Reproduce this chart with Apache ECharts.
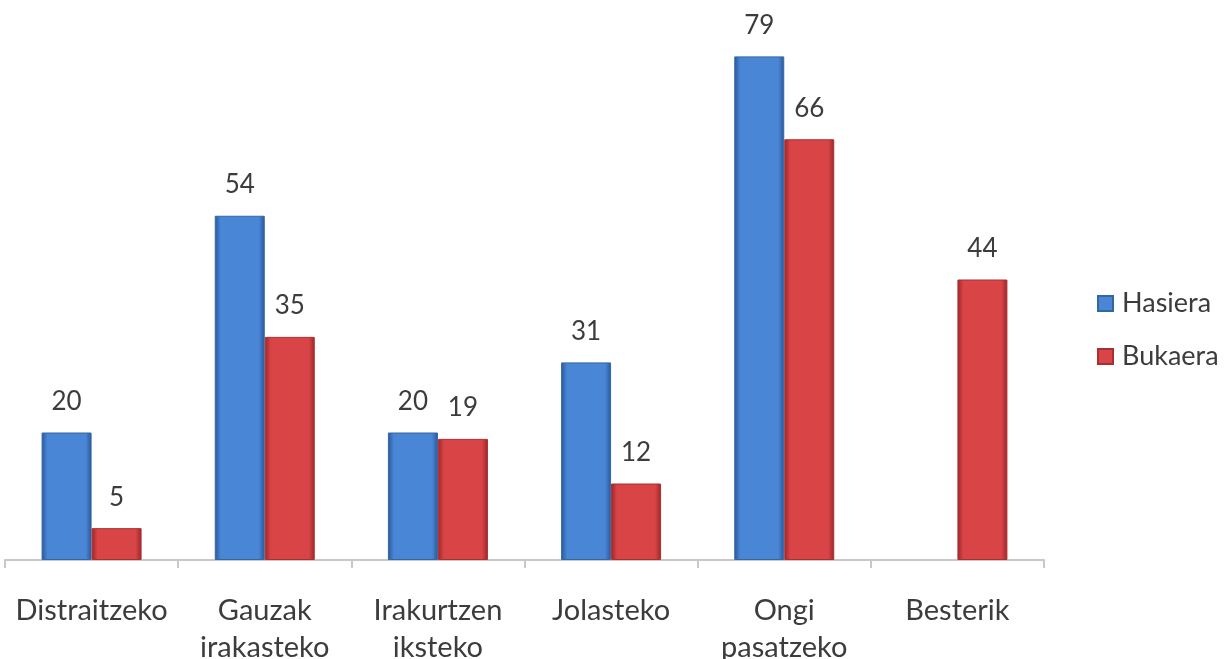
<!DOCTYPE html>
<html>
<head>
<meta charset="utf-8">
<script src="https://cdn.jsdelivr.net/npm/echarts@6/dist/echarts.min.js"></script>
<style>
html,body{margin:0;padding:0;background:#fff;}
#chart{width:1225px;height:659px;}
</style>
</head>
<body>
<div id="chart"></div>
<script>
const categories = ['Distraitzeko', 'Gauzak\nirakasteko', 'Irakurtzen\niksteko', 'Jolasteko', 'Ongi\npasatzeko', 'Besterik'];
const hasiera = [20, 54, 20, 31, 79, null];
const bukaera = [5, 35, 19, 12, 66, 44];
const seriesNames = ['Hasiera', 'Bukaera'];

const FONT = 'Lato, "Open Sans", sans-serif';
const TXT = '#3c3c3c';

function hGrad(edge, mid) {
  return new echarts.graphic.LinearGradient(0, 0, 1, 0, [
    {offset: 0, color: edge},
    {offset: 0.12, color: mid},
    {offset: 0.88, color: mid},
    {offset: 1, color: edge}
  ]);
}

const chart = echarts.init(document.getElementById('chart'));
chart.setOption({
  backgroundColor: '#fff',
  animation: false,
  grid: {left: 5, right: 181, top: 50, bottom: 99, containLabel: false, outerBoundsMode: 'none'},
  legend: {
    orient: 'vertical',
    left: 1092,
    top: 285,
    itemWidth: 15,
    itemHeight: 15,
    itemGap: 26,
    icon: 'rect',
    textStyle: {fontFamily: FONT, fontSize: 27, color: TXT, padding: [0, 0, 0, 4]},
    data: seriesNames
  },
  xAxis: {
    type: 'category',
    data: categories,
    axisLine: {lineStyle: {color: '#c8c8c8', width: 2}},
    axisTick: {show: true, length: 8, alignWithLabel: false, lineStyle: {color: '#c8c8c8', width: 2}},
    axisLabel: {fontFamily: FONT, fontSize: 29, color: TXT, margin: 32, lineHeight: 37, interval: 0}
  },
  yAxis: {
    type: 'value',
    min: 0,
    max: 80,
    show: false,
    splitLine: {show: false}
  },
  series: [
    {
      name: seriesNames[0],
      type: 'bar',
      data: hasiera,
      barWidth: 50,
      barGap: '0%',
      itemStyle: {color: hGrad('#28579a', '#4a86d6'), borderColor: '#35679f', borderWidth: 1},
      label: {show: true, position: 'top', distance: 18, fontFamily: FONT, fontSize: 26, color: TXT}
    },
    {
      name: seriesNames[1],
      type: 'bar',
      data: bukaera,
      barWidth: 50,
      barGap: '0%',
      itemStyle: {color: hGrad('#9c2628', '#d94446'), borderColor: '#a83032', borderWidth: 1},
      label: {show: true, position: 'top', distance: 18, fontFamily: FONT, fontSize: 26, color: TXT}
    }
  ]
});
</script>
</body>
</html>
